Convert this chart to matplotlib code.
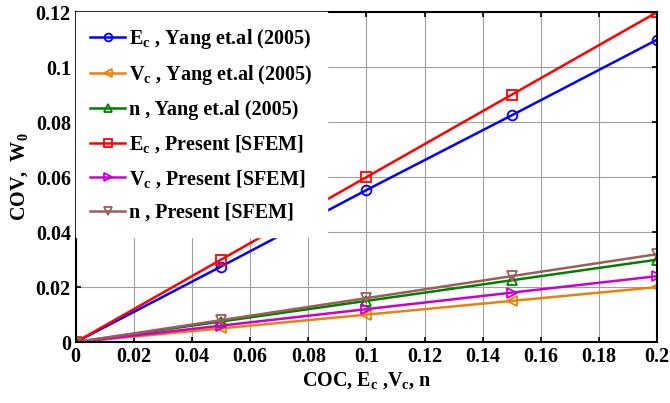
import matplotlib.pyplot as plt
from matplotlib.ticker import FuncFormatter

plt.rcParams["font.family"] = ["Liberation Serif", "DejaVu Serif"]
plt.rcParams["mathtext.fontset"] = "custom"
plt.rcParams["mathtext.rm"] = "Liberation Serif:bold"
plt.rcParams["mathtext.it"] = "Liberation Serif:bold"
plt.rcParams["mathtext.bf"] = "Liberation Serif:bold"

# data
coc = [0, 0.05, 0.1, 0.15, 0.2]
ec_yang = [0, 0.0275, 0.0553, 0.0825, 0.110]
vc_yang = [0, 0.005, 0.010, 0.015, 0.020]
n_yang = [0, 0.0075, 0.015, 0.0225, 0.030]
ec_sfem = [0, 0.030, 0.060, 0.090, 0.120]
vc_sfem = [0, 0.006, 0.012, 0.018, 0.024]
n_sfem = [0, 0.008, 0.016, 0.024, 0.032]

series = [
    (ec_yang, "#0000FF", "o", r"E$_\mathregular{c}$ , Yang et.al (2005)"),
    (vc_yang, "#E8820C", "<", r"V$_\mathregular{c}$ , Yang et.al (2005)"),
    (n_yang, "#008000", "^", "n , Yang et.al (2005)"),
    (ec_sfem, "#FF0000", "s", r"E$_\mathregular{c}$ , Present [SFEM]"),
    (vc_sfem, "#CC00CC", ">", r"V$_\mathregular{c}$ , Present [SFEM]"),
    (n_sfem, "#9A5F5A", "v", "n , Present [SFEM]"),
]

fig = plt.figure(figsize=(6.7, 4.03), dpi=100)
ax = fig.add_axes([0.113, 0.151, 0.868, 0.819])

for y, c, m, lab in series:
    ax.plot(coc, y, color=c, marker=m, markersize=7, markerfacecolor="none",
            markeredgewidth=1.3, linewidth=1.8, label=lab)

ax.set_xlim(0, 0.2)
ax.set_ylim(0, 0.12)
ax.set_xticks([0, 0.02, 0.04, 0.06, 0.08, 0.1, 0.12, 0.14, 0.16, 0.18, 0.2])
ax.set_yticks([0, 0.02, 0.04, 0.06, 0.08, 0.1, 0.12])
fmt = FuncFormatter(lambda v, p: "%g" % round(v, 4))
ax.xaxis.set_major_formatter(fmt)
ax.yaxis.set_major_formatter(fmt)
ax.grid(True, color="#a0a0a0", linewidth=0.8)
ax.tick_params(direction="in", top=True, right=True, labelsize=14.5, width=1.2)
for lab in ax.get_xticklabels() + ax.get_yticklabels():
    lab.set_fontweight("bold")
for s in ax.spines.values():
    s.set_linewidth(1.5)

ax.set_xlabel(r"COC, E$_\mathregular{c}$ ,V$_\mathregular{c}$, n", fontsize=14.5,
              fontweight="bold", labelpad=2)
ax.set_ylabel(r"COV,  W$_\mathregular{0}$", fontsize=14.5, fontweight="bold",
              labelpad=4)

leg = ax.legend(loc="upper left", frameon=True, fancybox=False,
                prop={"weight": "bold", "size": 14.5}, handlelength=1.75,
                markerscale=0.8, borderaxespad=0.0, borderpad=0.72,
                labelspacing=0.64, handletextpad=0.2)
leg.get_frame().set_edgecolor("white")
leg.get_frame().set_alpha(1)

fig.savefig("out.png", dpi=100)
